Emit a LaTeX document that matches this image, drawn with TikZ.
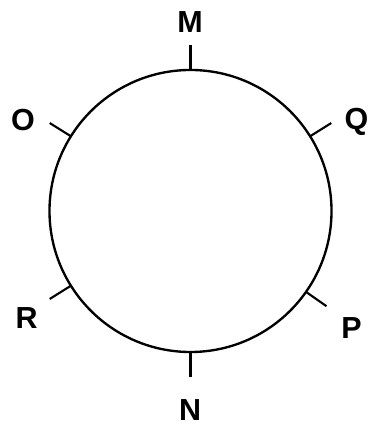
\documentclass[tikz,border=0pt]{standalone}
\usepackage{fontspec}
\setmainfont{Liberation Sans}
\usetikzlibrary{calc}

\begin{document}
\begin{tikzpicture}[
        x=0.03cm, y=0.03cm,
        % Define styles for the ring, the ticks and the letters
        ring/.style={draw, circle, line width=2pt, minimum size=8.46cm, inner sep=0pt, outer sep=0pt},
        tick/.style={line width=1.8pt},
        letter/.style={font=\fontsize{26}{30}\selectfont\bfseries, inner sep=0pt}
    ]
    \useasboundingbox (0,0) rectangle (372,427);

    % Draw the circle
    \node[ring] (ring) at (190.5,216) {};

    % Draw the ticks on the circle
    \foreach \ang/\name in {90/m, 32/q, 148/o, 212/r, 325/p, 270/n}{
        \coordinate (\name tip) at ($(ring.center)+(\ang:166)$);
        \draw[tick] (ring.\ang) -- (\name tip);
    }

    % Draw the letters
    \node[letter] (M) at (190,405) {M};
    \node[letter] (Q) at (356.5,305.5) {Q};
    \node[letter] (O) at (23,307) {O};
    \node[letter] (R) at (26.5,109) {R};
    \node[letter] (P) at (351.5,99) {P};
    \node[letter] (N) at (190,17) {N};

\end{tikzpicture}
\end{document}
